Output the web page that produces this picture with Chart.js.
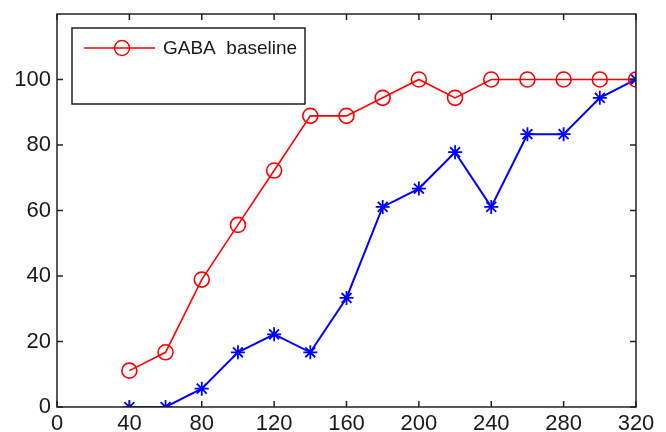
<!DOCTYPE html>
<html>
<head>
<meta charset="utf-8">
<script src="https://cdn.jsdelivr.net/npm/chart.js@4"></script>
<style>
  html, body { margin: 0; padding: 0; background: #fff; }
  canvas { display: block; }
</style>
</head>
<body>
<canvas id="grafico" width="666" height="432"></canvas>
<script>
// valores
const tempos = [40, 60, 80, 100, 120, 140, 160, 180, 200, 220, 240, 260, 280, 300, 320];
const gabaBaseline = [11.1, 16.7, 38.9, 55.6, 72.2, 88.9, 88.9, 94.4, 100, 94.4, 100, 100, 100, 100, 100];
const gabaSegunda = [0, 0, 5.6, 16.7, 22.2, 16.7, 33.3, 61.1, 66.7, 77.8, 61.1, 83.3, 83.3, 94.4, 100];
const ticksX = [0, 40, 80, 120, 160, 200, 240, 280, 320];
const ticksY = [0, 20, 40, 60, 80, 100];

const fonte = "'Liberation Sans', Arial, sans-serif";

function pontos(ys) {
  return tempos.map((t, i) => ({ x: t, y: ys[i] }));
}

// moldura com ticks para dentro (estilo matlab) + legenda
const moldura = {
  id: "moldura",
  afterDraw(chart) {
    const ctx = chart.ctx;
    const a = chart.chartArea;
    const sx = chart.scales.x;
    const sy = chart.scales.y;
    ctx.save();
    ctx.strokeStyle = "#222";
    ctx.lineWidth = 1.5;
    ctx.strokeRect(a.left, a.top, a.right - a.left, a.bottom - a.top);
    ctx.beginPath();
    ticksX.forEach(v => {
      const px = sx.getPixelForValue(v);
      ctx.moveTo(px, a.bottom); ctx.lineTo(px, a.bottom - 6);
      ctx.moveTo(px, a.top); ctx.lineTo(px, a.top + 6);
    });
    ticksY.forEach(v => {
      const py = sy.getPixelForValue(v);
      ctx.moveTo(a.left, py); ctx.lineTo(a.left + 6, py);
      ctx.moveTo(a.right, py); ctx.lineTo(a.right - 6, py);
    });
    ctx.stroke();

    // legenda
    const lx = a.left + 15, ly = a.top + 14, lw = 233, lh = 76;
    ctx.fillStyle = "#fff";
    ctx.fillRect(lx, ly, lw, lh);
    ctx.strokeRect(lx, ly, lw, lh);
    const my = ly + 20;
    ctx.strokeStyle = "#ff0000";
    ctx.lineWidth = 1.5;
    ctx.beginPath();
    ctx.moveTo(lx + 12, my); ctx.lineTo(lx + 83, my);
    ctx.stroke();
    ctx.beginPath();
    ctx.arc(lx + 50, my, 7.5, 0, Math.PI * 2);
    ctx.stroke();
    ctx.fillStyle = "#1a1a1a";
    ctx.font = "19px " + fonte;
    ctx.textBaseline = "middle";
    ctx.fillText("GABA  baseline", lx + 91, my + 1);
    ctx.restore();
  }
};

new Chart(document.getElementById("grafico"), {
  type: "line",
  data: {
    datasets: [
      {
        label: "GABA baseline",
        data: pontos(gabaBaseline),
        borderColor: "#ff0000",
        backgroundColor: "rgba(0,0,0,0)",
        borderWidth: 1.6,
        pointStyle: "circle",
        pointRadius: 7.5,
        pointBorderWidth: 1.6,
        pointBorderColor: "#ff0000",
        tension: 0
      },
      {
        label: "",
        data: pontos(gabaSegunda),
        borderColor: "#0000ff",
        backgroundColor: "rgba(0,0,0,0)",
        borderWidth: 2,
        pointStyle: "star",
        pointRadius: 7,
        pointBorderWidth: 1.8,
        pointBorderColor: "#0000ff",
        tension: 0
      }
    ]
  },
  options: {
    responsive: false,
    animation: false,
    devicePixelRatio: 1,
    layout: { padding: { top: 14, right: 30, left: 0, bottom: 0 } },
    plugins: { legend: { display: false }, tooltip: { enabled: false } },
    scales: {
      x: {
        type: "linear",
        min: 0,
        max: 320,
        afterBuildTicks: s => { s.ticks = ticksX.map(v => ({ value: v })); },
        afterFit: s => { s.height = 25; s.paddingLeft = 0; s.paddingRight = 0; },
        grid: { display: false, drawTicks: false },
        border: { display: false },
        ticks: { padding: 4, maxRotation: 0, autoSkip: false, color: "#1a1a1a", font: { family: fonte, size: 22 } }
      },
      y: {
        min: 0,
        max: 120,
        afterBuildTicks: s => { s.ticks = ticksY.map(v => ({ value: v })); },
        afterFit: s => { s.width = 57; s.paddingTop = 0; s.paddingBottom = 0; },
        grid: { display: false, drawTicks: false },
        border: { display: false },
        ticks: { padding: 6, color: "#1a1a1a", font: { family: fonte, size: 22 } }
      }
    }
  },
  plugins: [moldura]
});
</script>
</body>
</html>
